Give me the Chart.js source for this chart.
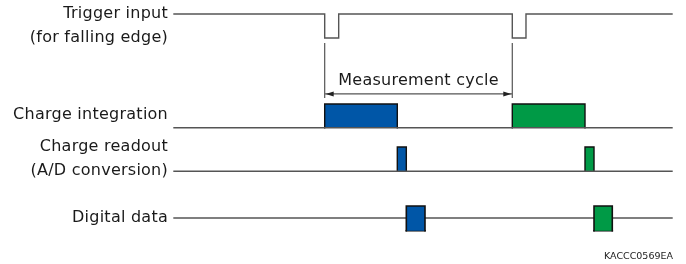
<!DOCTYPE html>
<html>
<head>
<meta charset="utf-8">
<script src="https://cdn.jsdelivr.net/npm/chart.js@4/dist/chart.umd.min.js"></script>
<style>
  html, body { margin: 0; padding: 0; background: #fff; }
  canvas { display: block; }
</style>
</head>
<body>
<canvas id="chart" width="686" height="264"></canvas>
<script>
// time axis in arbitrary units (0..100), levels in arbitrary units
const signalNames = [["Trigger input", "(for falling edge)"], ["Charge integration"], ["Charge readout", "(A/D conversion)"], ["Digital data"]]
const laneBase = [10, 5.26, 3.45, 1.5]
const laneTop = [9, 6.25, 4.46, 2.0]
const laneBottom = [9, 5.26, 3.45, 0.97]

const triggerFall = [30.26, 67.93]
const triggerRise = [33.07, 70.68]
const integrationEnd = [44.84, 82.53]
const readoutEnd = [46.65, 84.34]
const digitalEnd = [50.4, 88.01]
const cycleColors = ["#0056a7", "#009a46"]

const lineColor = "#555555"
const textColor = "#1a1a1a"
const fontFamily = "'DejaVu Sans', Verdana, sans-serif"

function rect(x0, x1, y0, y1) {
  return [{ x: x0, y: y0 }, { x: x0, y: y1 }, { x: x1, y: y1 }, { x: x1, y: y0 }]
}

const datasets = []

// trigger signal (goes low at each falling edge)
const trig = [{ x: 0, y: laneBase[0] }]
triggerFall.forEach((f, i) => {
  trig.push({ x: f, y: laneBase[0] }, { x: f, y: laneTop[0] }, { x: triggerRise[i], y: laneTop[0] }, { x: triggerRise[i], y: laneBase[0] })
})
trig.push({ x: 100, y: laneBase[0] })
datasets.push({ data: trig, borderColor: lineColor, borderWidth: 1.4, order: 1 })

// baselines
for (let k = 1; k < 4; k++) {
  datasets.push({ data: [{ x: 0, y: laneBase[k] }, { x: 100, y: laneBase[k] }], borderColor: lineColor, borderWidth: 1.4, order: k === 3 ? 3 : 1 })
}

triggerFall.forEach((start, i) => {
  const c = cycleColors[i]
  datasets.push({ data: rect(start, integrationEnd[i], laneBase[1], laneTop[1]), borderColor: "#111", backgroundColor: c, borderWidth: 1.4, fill: { value: laneBase[1] }, order: 2 })
  datasets.push({ data: rect(integrationEnd[i], readoutEnd[i], laneBase[2], laneTop[2]), borderColor: "#111", backgroundColor: c, borderWidth: 1.4, fill: { value: laneBase[2] }, order: 2 })
  datasets.push({ data: rect(readoutEnd[i], digitalEnd[i], laneBottom[3], laneTop[3]), borderColor: "#111", backgroundColor: c, borderWidth: 1.6, fill: { value: laneBottom[3] }, order: 0 })
  datasets.push({ data: [{ x: readoutEnd[i], y: laneBottom[3] }, { x: digitalEnd[i], y: laneBottom[3] }], borderColor: "#111", borderWidth: 1.6, order: 0 })
})

datasets.forEach((d) => {
  d.pointRadius = 0
  d.tension = 0
  d.clip = false
  d.borderCapStyle = "square"
  d.borderJoinStyle = "miter"
  if (!d.fill) d.fill = false
})

const annotate = {
  id: "annotate",
  afterDatasetsDraw(chart) {
    const { ctx, scales: { x, y }, chartArea } = chart
    ctx.save()
    ctx.fillStyle = textColor
    ctx.font = "16px " + fontFamily
    ctx.letterSpacing = "0.25px"
    ctx.textAlign = "right"
    ctx.textBaseline = "middle"
    const lx = chartArea.left - 6
    signalNames.forEach((lines, k) => {
      if (lines.length === 2) {
        ctx.fillText(lines[0], lx, y.getPixelForValue(Math.max(laneBase[k], laneTop[k])))
        ctx.fillText(lines[1], lx, y.getPixelForValue(Math.min(laneBase[k], laneTop[k])))
      } else if (k === 1) {
        ctx.fillText(lines[0], lx, y.getPixelForValue((laneBase[k] + laneTop[k]) / 2) - 1)
      } else {
        ctx.fillText(lines[0], lx, y.getPixelForValue(laneBase[k]))
      }
    })

    // measurement cycle dimension
    const x0 = x.getPixelForValue(triggerFall[0])
    const x1 = x.getPixelForValue(triggerFall[1])
    const yTop = y.getPixelForValue(8.79)
    const yBot = y.getPixelForValue(6.5)
    const yArr = y.getPixelForValue(6.67)
    ctx.strokeStyle = lineColor
    ctx.lineWidth = 1.2
    ctx.beginPath()
    ctx.moveTo(x0, yTop); ctx.lineTo(x0, yBot)
    ctx.moveTo(x1, yTop); ctx.lineTo(x1, yBot)
    ctx.moveTo(x0, yArr); ctx.lineTo(x1, yArr)
    ctx.stroke()
    ctx.fillStyle = "#222"
    ctx.beginPath()
    ctx.moveTo(x0 + 1, yArr); ctx.lineTo(x0 + 9, yArr - 2.5); ctx.lineTo(x0 + 9, yArr + 2.5); ctx.closePath()
    ctx.moveTo(x1 - 1, yArr); ctx.lineTo(x1 - 9, yArr - 2.5); ctx.lineTo(x1 - 9, yArr + 2.5); ctx.closePath()
    ctx.fill()
    ctx.fillStyle = textColor
    ctx.textAlign = "center"
    ctx.fillText("Measurement cycle", (x0 + x1) / 2, yArr - 13)

    ctx.font = "9.5px " + fontFamily
    ctx.letterSpacing = "0px"
    ctx.textAlign = "right"
    ctx.fillStyle = "#222"
    ctx.fillText("KACCC0569EA", 673, 257)
    ctx.restore()
  }
}

new Chart(document.getElementById("chart"), {
  type: "line",
  data: { datasets },
  options: {
    responsive: false,
    animation: false,
    layout: { padding: { left: 174, right: 14, top: 14, bottom: 10 } },
    scales: {
      x: { type: "linear", min: 0, max: 100, display: false },
      y: { type: "linear", min: 0, max: 10, display: false }
    },
    plugins: { legend: { display: false }, tooltip: { enabled: false } }
  },
  plugins: [annotate]
})
</script>
</body>
</html>
